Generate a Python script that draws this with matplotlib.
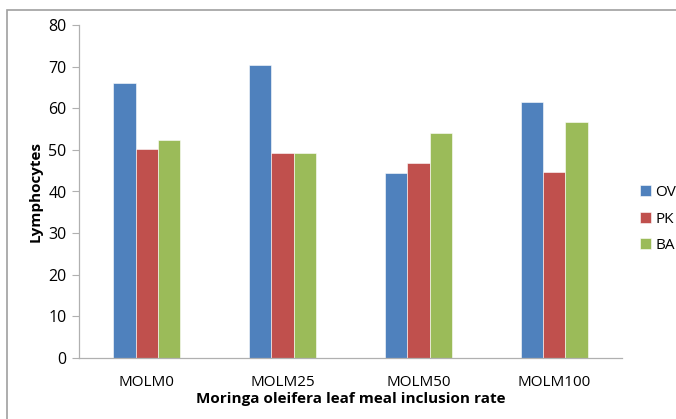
import numpy as np
import matplotlib.pyplot as plt
from matplotlib.patches import Rectangle

# data
categories = ["MOLM0", "MOLM25", "MOLM50", "MOLM100"]
series_names = ["OV", "PK", "BA"]
ov = [66.0, 70.4, 44.5, 61.6]
pk = [50.1, 49.2, 46.8, 44.8]
ba = [52.3, 49.2, 54.0, 56.8]
colors = ["#4f81bd", "#c0504d", "#9bbb59"]

plt.rcParams['font.family'] = ['Open Sans', 'DejaVu Sans']

W, H = 676, 419
fig = plt.figure(figsize=(W / 100, H / 100), dpi=100)

# outer chart frame (cut off on right/bottom like the reference)
fig.patches.append(Rectangle((7 / W, -0.1), 1.2, 1.1 - 10 / H,
                             transform=fig.transFigure, fill=False,
                             edgecolor="#a0a0a0", linewidth=1.2))

ax = fig.add_axes([79 / W, 1 - 358 / H, (622 - 79) / W, (358 - 25) / H])
x = np.arange(len(categories))
bw = 0.165
for i, (vals, name) in enumerate(zip([ov, pk, ba], series_names)):
    ax.bar(x + (i - 1) * bw, vals, bw, color=colors[i], label=name,
           edgecolor="white", linewidth=0.4)

ax.set_xlim(-0.5, len(categories) - 0.5)
ax.set_ylim(0, 80)
ax.set_yticks(range(0, 81, 10))
ax.set_xticks(x)
ax.set_xticklabels(categories)
ax.tick_params(axis='x', length=0, labelsize=11, pad=12)
ax.tick_params(axis='y', length=5, color="#b0b0b0", labelsize=11.5, pad=4)
for s in ["top", "right"]:
    ax.spines[s].set_visible(False)
for s in ["left", "bottom"]:
    ax.spines[s].set_color("#b0b0b0")
    ax.spines[s].set_linewidth(0.9)

ax.set_ylabel("Lymphocytes", fontsize=11, fontweight="bold", labelpad=4)
ax.set_xlabel("Moringa oleifera leaf meal inclusion rate", fontsize=11,
              fontweight="bold", labelpad=2)

fig.legend(loc="upper left", bbox_to_anchor=(634 / W, 1 - 179 / H),
           frameon=False, fontsize=11, handlelength=0.7, handleheight=0.7,
           handletextpad=0.3, labelspacing=0.75, borderaxespad=0)

fig.savefig("out.png", dpi=100)
